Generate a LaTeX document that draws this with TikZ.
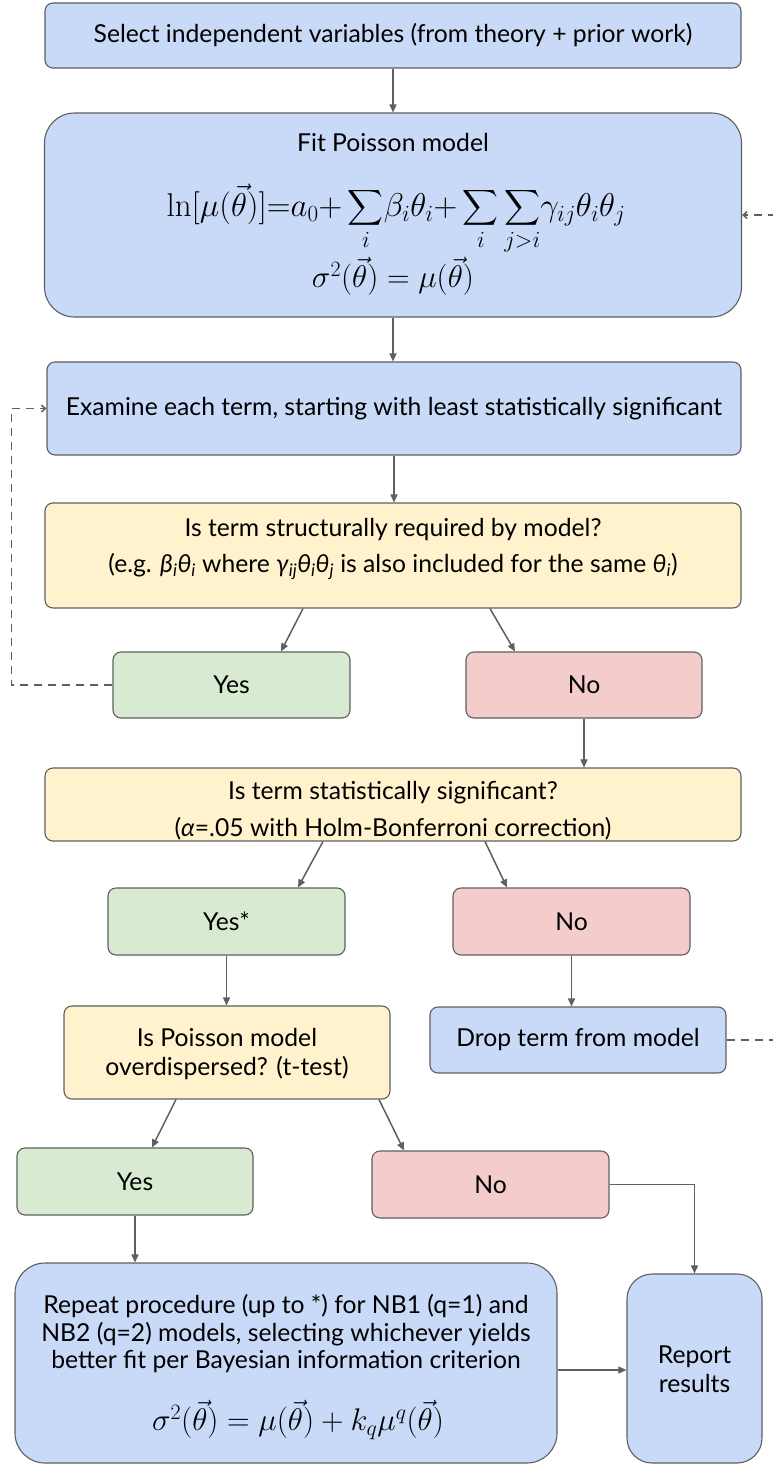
\RequirePackage{fix-cm}
\documentclass[tikz,border=0pt]{standalone}
\usepackage{exscale}
\usepackage[no-math]{fontspec}
\setmainfont{Lato}
\usetikzlibrary{arrows.meta,calc}
\definecolor{bfill}{HTML}{C9DAF8}
\definecolor{yfill}{HTML}{FFF2CC}
\definecolor{gfill}{HTML}{D9EAD3}
\definecolor{rfill}{HTML}{F4CCCC}
\definecolor{edge}{HTML}{5F5F5F}
\newcommand\gs[2]{\textit{#1}\textsubscript{\textit{#2}}}
\begin{document}
\begin{tikzpicture}[x=1pt,y=-1pt,
  box/.style={draw=edge, line width=1.1pt, rounded corners=8pt, align=center,
    inner sep=0pt, font=\fontsize{24.7}{29}\selectfont},
  bluebox/.style={box, fill=bfill},
  yelbox/.style={box, fill=yfill},
  grnbox/.style={box, fill=gfill},
  redbox/.style={box, fill=rfill},
  txt/.style={inner sep=0pt, anchor=base, font=\fontsize{24.7}{29}\selectfont},
  mth/.style={inner sep=0pt, font=\fontsize{31.3}{36}\selectfont},
  arr/.style={draw=edge, line width=1.5pt, -{Triangle[length=8pt,width=7pt]}},
  dasharr/.style={draw=edge, line width=1.5pt, dash pattern=on 8pt off 6pt,
    -{Straight Barb[length=4pt,width=7pt]}}]
\useasboundingbox (0,0) rectangle (773,1464);
\fill[white] (0,0) rectangle (773,1464);
\clip (0,0) rectangle (773,1464);

% boxes
\node[bluebox, minimum width=696pt, minimum height=65pt] (b1) at (393,35.5)
  {Select independent variables (from theory + prior work)};
\node[bluebox, rounded corners=30pt, minimum width=697pt, minimum height=204pt] (fit) at (393,215) {};
\node[txt] (fitT) at (393,151) {Fit Poisson model};
\node[mth, font=\fontsize{33}{38}\selectfont] (fitE) at (396,219) {$\displaystyle \ln[\mu(\vec{\theta})]{=}a_0{+}\sum_i\!\beta_i\theta_i{+}\sum_i\sum_{j>i}\!\gamma_{ij}\theta_i\theta_j$};
\node[mth] (fitS) at (393,276) {$\sigma^2(\vec{\theta})=\mu(\vec{\theta})$};

\node[bluebox, minimum width=694pt, minimum height=93pt] (exam) at (394,408.5)
  {Examine each term, starting with least statistically significant};

\node[yelbox, minimum width=696pt, minimum height=105pt] (q1) at (393,555.5) {};
\node[txt] (q1a) at (393,536) {Is term structurally required by model?};
\node[txt] (q1b) at (393,572) {(e.g. \gs{β}{i}\gs{θ}{i} where \gs{γ}{ij}\gs{θ}{i}\gs{θ}{j} is also included for the same \gs{θ}{i})};
\node[grnbox, minimum width=237pt, minimum height=66pt] (yes1) at (231.5,685) {Yes};
\node[redbox, minimum width=236pt, minimum height=66pt] (no1) at (584,685) {No};

\node[yelbox, minimum width=696pt, minimum height=73pt] (q2) at (393,804.5) {};
\node[txt] (q2a) at (393,799) {Is term statistically significant?};
\node[txt] (q2b) at (393,836) {(\textit{α}=.05 with Holm-Bonferroni correction)};
\node[grnbox, minimum width=237pt, minimum height=67pt] (yes2) at (226.5,921.5) {Yes*};
\node[redbox, minimum width=237pt, minimum height=67pt] (no2) at (571.5,921.5) {No};

\node[yelbox, minimum width=326pt, minimum height=93pt] (q3) at (227,1052.5) {};
\node[txt] (q3a) at (227,1046) {Is Poisson model};
\node[txt] (q3b) at (227,1075) {overdispersed? (t-test)};
\node[bluebox, minimum width=296pt, minimum height=66pt] (drop) at (578,1040) {Drop term from model};

\node[grnbox, minimum width=236pt, minimum height=67pt] (yes3) at (135,1181.5) {Yes};
\node[redbox, minimum width=237pt, minimum height=67pt] (no3) at (490.5,1184.5) {No};

\node[bluebox, rounded corners=30pt, minimum width=542pt, minimum height=200pt] (rep) at (286,1363) {};
\node[txt] (repA) at (286,1313) {Repeat procedure (up to *) for NB1 (q=1) and};
\node[txt] (repB) at (286,1341) {NB2 (q=2) models, selecting whichever yields};
\node[txt] (repC) at (286,1368) {better fit per Bayesian information criterion};
\node[mth] (repE) at (298,1420) {$\sigma^2(\vec{\theta})=\mu(\vec{\theta})+k_q\mu^q(\vec{\theta})$};

\node[bluebox, rounded corners=25pt, minimum width=135pt, minimum height=189pt] (report) at (694.5,1368.5) {};
\node[txt] (reportA) at (694.5,1363) {Report};
\node[txt] (reportB) at (694.5,1392) {results};

% connectors
\draw[arr] (b1.south) -- (fit.north);
\draw[arr] (fit.south) -- (fit.south |- exam.north);
\draw[arr] (exam.south) -- (exam.south |- q1.north);
\draw[arr] ([xshift=-90pt]q1.south) -- ([xshift=49.5pt]yes1.north);
\draw[arr] ([xshift=97pt]q1.south) -- ([xshift=-69pt]no1.north);
\draw[dasharr] (yes1.west) -- ++(-101,0) |- (exam.west);
\draw[arr] (no1.south) -- (no1.south |- q2.north);
\draw[arr] ([xshift=-70pt]q2.south) -- ([xshift=71.5pt]yes2.north);
\draw[arr] ([xshift=92pt]q2.south) -- ([xshift=-64.5pt]no2.north);
\draw[arr] (yes2.south) -- (yes2.south |- q3.north);
\draw[arr] (no2.south) -- (no2.south |- drop.north);
\draw[dasharr] (drop.east) -- ++(60,0) |- (fit.east);
\draw[arr] ([xshift=-51pt]q3.south) -- ([xshift=17pt]yes3.north);
\draw[arr] ([xshift=152pt]q3.south) -- ([xshift=-86.5pt]no3.north);
\draw[arr] (yes3.south) -- (yes3.south |- rep.north);
\draw[arr] (no3.east) -| (report.north);
\draw[arr] ([yshift=-7pt]rep.east) -- ([yshift=-7pt]rep.east -| report.west);
\end{tikzpicture}
\end{document}
